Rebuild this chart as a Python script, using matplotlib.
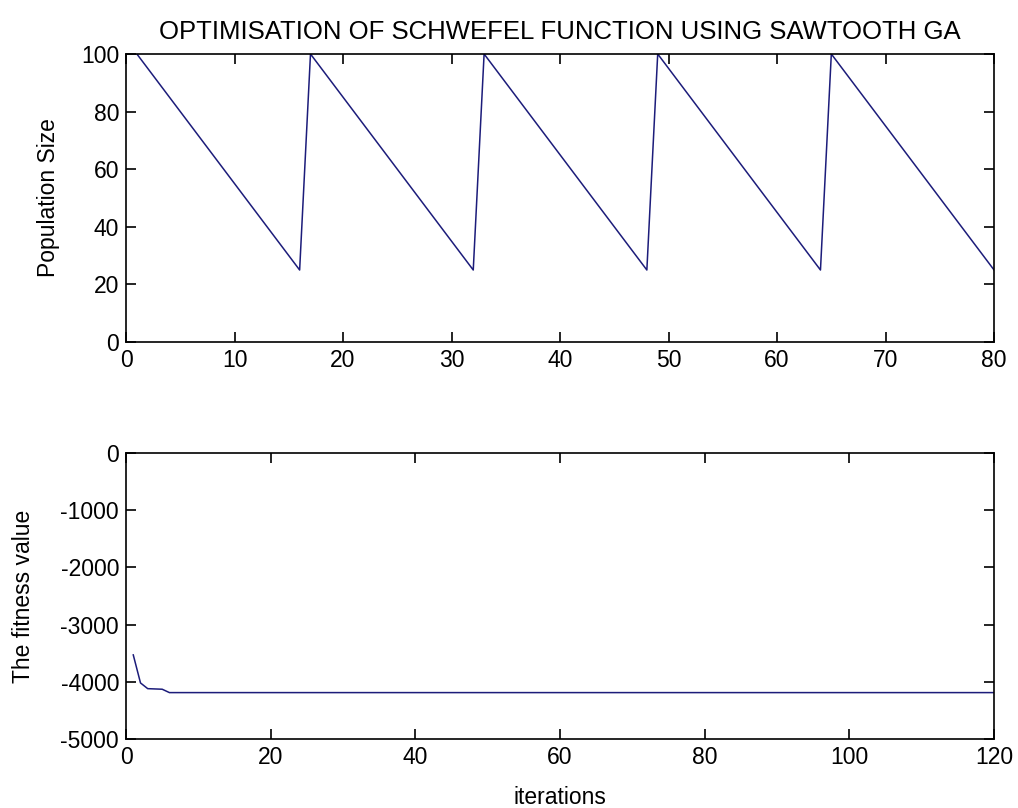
import matplotlib
matplotlib.use("Agg")
import matplotlib.pyplot as plt

# -------------------- data --------------------
# population size: corner points of the sawtooth
pop_iter = [1, 16, 17, 32, 33, 48, 49, 64, 65, 80]
pop_size = [100, 25, 100, 25, 100, 25, 100, 25, 100, 25]

# best fitness per iteration (flat after iteration 6)
fit_iter = [1, 2, 3, 4, 5, 6, 120]
fit_value = [-3530, -4020, -4120, -4125, -4130, -4189, -4189]

top_xticks = [0, 10, 20, 30, 40, 50, 60, 70, 80]
top_yticks = [0, 20, 40, 60, 80, 100]
bot_xticks = [0, 20, 40, 60, 80, 100, 120]
bot_yticks = [-5000, -4000, -3000, -2000, -1000, 0]

line_color = '#1c1c7a'
plt.rcParams['font.family'] = ['Liberation Sans', 'DejaVu Sans']
plt.rcParams['font.size'] = 16.5
plt.rcParams['axes.unicode_minus'] = False


def matlab_axes(ax):
    ax.tick_params(direction='in', top=True, right=True, length=7,
                   width=1.2, pad=5)
    for s in ax.spines.values():
        s.set_linewidth(1.2)


fig = plt.figure(figsize=(10.18, 8.08), dpi=100)

# -------------------- top: population size --------------------
ax1 = fig.add_axes([0.1238, 0.5767, 0.8527, 0.3565])
ax1.plot(pop_iter, pop_size, color=line_color, linewidth=1.1)
ax1.set_xlim(0, 80)
ax1.set_ylim(0, 100)
ax1.set_xticks(top_xticks)
ax1.set_yticks(top_yticks)
ax1.set_ylabel('Population Size', labelpad=15)
ax1.set_title('OPTIMISATION OF SCHWEFEL FUNCTION USING SAWTOOTH GA',
              fontsize=18.5, pad=11)
matlab_axes(ax1)

# -------------------- bottom: fitness --------------------
ax2 = fig.add_axes([0.1238, 0.0854, 0.8527, 0.354])
ax2.plot(fit_iter, fit_value, color=line_color, linewidth=1.1)
ax2.set_xlim(0, 120)
ax2.set_ylim(-5000, 0)
ax2.set_xticks(bot_xticks)
ax2.set_yticks(bot_yticks)
ax2.set_ylabel('The fitness value', labelpad=18)
ax2.set_xlabel('iterations', labelpad=12)
matlab_axes(ax2)

fig.savefig('out.png', dpi=100)
